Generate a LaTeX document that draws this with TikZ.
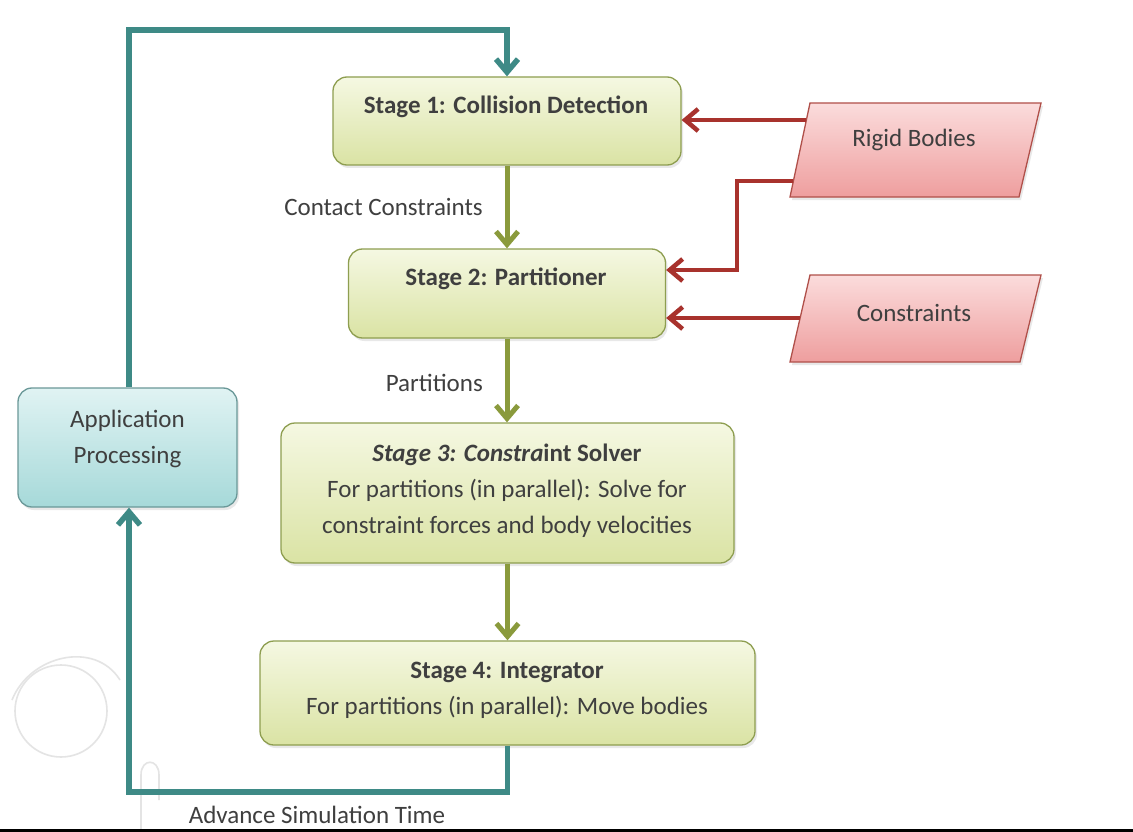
\documentclass[tikz,border=0pt]{standalone}
\usepackage{fontspec}
\setmainfont{Carlito}
\usetikzlibrary{arrows.meta,shadows}
\definecolor{txtc}{HTML}{3F3F3F}
\definecolor{gtop}{HTML}{F5F8E2}
\definecolor{gbot}{HTML}{DAE3A4}
\definecolor{gbd}{HTML}{8E9E50}
\definecolor{atop}{HTML}{E0F3F3}
\definecolor{abot}{HTML}{A6D9D9}
\definecolor{abd}{HTML}{6A9898}
\definecolor{rtop}{HTML}{FBDCDC}
\definecolor{rbot}{HTML}{EE9E9E}
\definecolor{rbd}{HTML}{B0504A}
\definecolor{tealc}{HTML}{3E8A86}
\definecolor{olivec}{HTML}{8A9A3C}
\definecolor{redc}{HTML}{A8322D}
\definecolor{deco}{HTML}{E4E4E4}
\tikzset{
  boxshadow/.style={drop shadow={opacity=0.18,shadow xshift=2pt,shadow yshift=-3pt}},
  stagebox/.style={draw=gbd,line width=1.3pt,rounded corners=14pt,top color=gtop,bottom color=gbot,boxshadow},
  appbox/.style={draw=abd,line width=1.3pt,rounded corners=14pt,top color=atop,bottom color=abot,boxshadow},
  databox/.style={draw=rbd,line width=1.3pt,top color=rtop,bottom color=rbot,boxshadow},
  txt/.style={text=txtc,font=\fontsize{25}{36}\selectfont,align=center,inner sep=0pt},
  barb/.style={-{Straight Barb[length=13pt,width=22pt]}},
  tealarrow/.style={draw=tealc,line width=5.5pt,barb},
  olivearrow/.style={draw=olivec,line width=5pt,barb},
  redarrow/.style={draw=redc,line width=4.5pt,barb},
}
\begin{document}
\begin{tikzpicture}[x=1pt,y=-1pt]
\useasboundingbox (0,0) rectangle (1133,832);
\fill[white] (0,0) rectangle (1133,832);
% faint background decoration
\draw[deco,line width=1.6pt] (61,711) circle (46pt);
\draw[deco,line width=1.6pt] (12,700) .. controls (30,655) and (95,640) .. (120,680);
\draw[deco,line width=1.6pt] (141,832) -- (141,775) .. controls (141,758) and (159,758) .. (159,775) -- (159,800);
\fill[black] (0,829) rectangle (1133,832);

% boxes
\node[stagebox,minimum width=348pt,minimum height=88pt] (s1) at (507,121) {};
\node[stagebox,minimum width=317pt,minimum height=89pt] (s2) at (507,293.5) {};
\node[stagebox,minimum width=453pt,minimum height=140pt] (s3) at (507.5,493) {};
\node[stagebox,minimum width=495pt,minimum height=104pt] (s4) at (507.5,693) {};
\node[appbox,minimum width=219pt,minimum height=119pt] (app) at (127.5,447.5) {};
\path[databox] (810,103) -- (1041,103) -- (1019,197) -- (790,197) -- cycle;
\path[databox] (810,275) -- (1041,275) -- (1020,362) -- (790,362) -- cycle;

% texts
\node[txt] (s1t) at (506,107) {\bfseries Stage 1: Collision Detection};
\node[txt] (s2t) at (506,279) {\bfseries Stage 2: Partitioner};
\node[txt] (s3t) at (507,491) {{\bfseries\itshape Stage 3: Constra}{\bfseries int Solver}\\For partitions (in parallel): Solve for\\constraint forces and body velocities};
\node[txt] (s4t) at (507,690) {\bfseries Stage 4: Integrator\\For partitions (in parallel): Move bodies};
\node[txt] (appt) at (127.5,439) {Application\\Processing};
\node[txt] (rb) at (914,140) {Rigid Bodies};
\node[txt] (cs) at (914,313) {Constraints};
\node[txt,anchor=east] (l1) at (483,207) {Contact Constraints};
\node[txt,anchor=east] (l2) at (483,383) {Partitions};
\node[txt] (l3) at (317,815) {Advance Simulation Time};

% helper coordinates
\coordinate (rb1) at (806,120);
\coordinate (rb2) at (793,181);
\coordinate (cs1) at (800,318);
\coordinate (rbk) at (737,0);
\coordinate (s2r) at (0,270);
\coordinate (ttop) at (0,30);
\coordinate (bbot) at (0,792);
\coordinate (appx) at (129,0);

% connectors
\draw[olivearrow] (s1.south) -- (s1.south |- s2.north);
\draw[olivearrow] (s2.south) -- (s2.south |- s3.north);
\draw[olivearrow] (s3.south) -- (s3.south |- s4.north);
\draw[redarrow] (rb1) -- (s1.east |- rb1);
\draw[redarrow] (rb2) -- (rbk |- rb2) -- (rbk |- s2r) -- (s2.east |- s2r);
\draw[redarrow] (cs1) -- (s2.east |- cs1);
\draw[tealarrow] (appx |- app.north) -- (appx |- ttop) -- (s1.north |- ttop) -- (s1.north);
\draw[tealarrow] (s4.south) -- (s4.south |- bbot) -- (appx |- bbot) -- (appx |- app.south);
\end{tikzpicture}
\end{document}
